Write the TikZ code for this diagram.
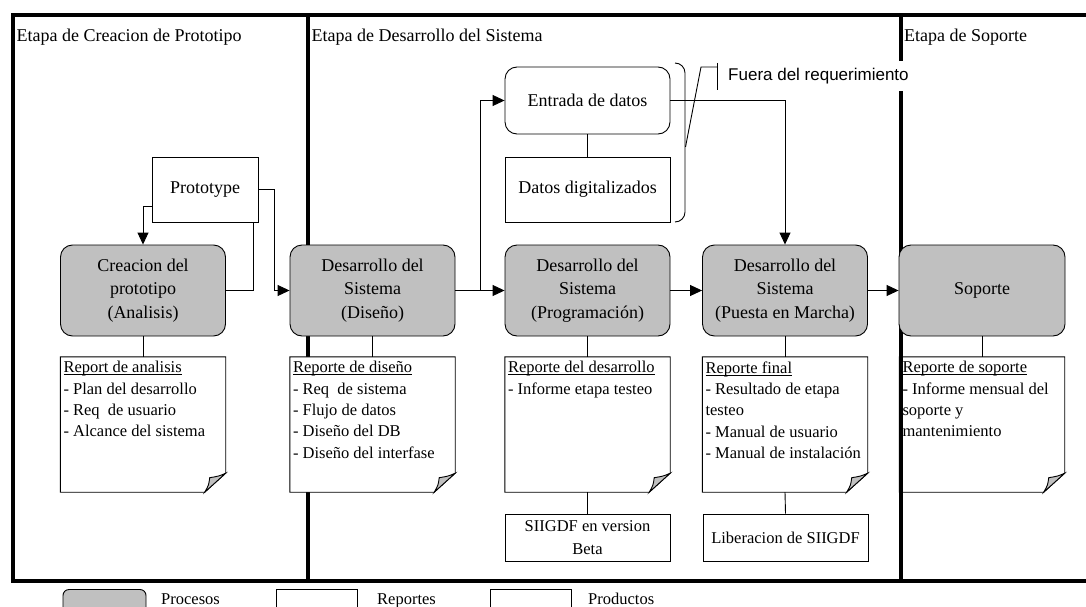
\documentclass[tikz,border=0pt]{standalone}
\usepackage{fontspec}
\setmainfont{Liberation Serif}
\newfontfamily\arialfont{Liberation Sans}
\usetikzlibrary{arrows.meta}
\definecolor{procgray}{RGB}{192,192,192}
% underline drawn just below the baseline, independent of descenders
\newcommand\ulin[1]{\setbox0\hbox{#1}\rlap{\rule[-2.2pt]{\wd0}{0.8pt}}\box0}

\begin{document}
\begin{tikzpicture}[x=1pt,y=-1pt,
  thinline/.style={line width=0.9pt},
  frameline/.style={line width=4pt},
  process/.style={draw, thinline, fill=procgray, rounded corners=12pt,
    minimum width=165pt, minimum height=91pt, align=center, inner sep=0pt,
    font=\fontsize{18}{23.3}\selectfont},
  docshape/.style={minimum width=165pt, minimum height=135pt, inner sep=0pt},
  doctext/.style={anchor=north west, inner sep=0pt, align=left,
    font=\fontsize{16.5}{21.3}\selectfont},
  product/.style={draw, thinline, fill=white, minimum width=165pt,
    minimum height=47pt, align=center, inner sep=0pt,
    font=\fontsize{16.5}{23}\selectfont},
  plainbox/.style={draw, thinline, fill=white, align=center, inner sep=0pt,
    font=\fontsize{18}{23}\selectfont},
  stage/.style={anchor=base west, inner sep=0pt, font=\fontsize{18}{22}\selectfont},
  legtext/.style={anchor=base west, inner sep=0pt, font=\fontsize{16.5}{20}\selectfont},
  flow/.style={thinline, -{Triangle[length=12pt,width=11pt]}},
  link/.style={thinline},
]
\useasboundingbox (0,0) rectangle (1086,607);
\clip (0,0) rectangle (1086,607);

% outer frame and first stage divider
\draw[frameline] (1092,15) -- (13,15) -- (13,581) -- (1092,581);
\draw[frameline] (307.5,15) -- (307.5,581);

% stage titles
\node[stage] (st1) at (16.5,42) {Etapa de Creacion de Prototipo};
\node[stage] (st2) at (311.5,42) {Etapa de Desarrollo del Sistema};
\node[stage] (st3) at (904,42) {Etapa de Soporte};

% report documents (page with curled corner)
\node[docshape] (r1) at (143,424.5) {};
\node[docshape] (r2) at (372.5,424.5) {};
\node[docshape] (r3) at (587.5,424.5) {};
\node[docshape] (r4) at (785,424.5) {};
\node[docshape] (r5) at (982,424.5) {};
\foreach \doc in {r1,r2,r3,r4,r5} {
  \draw[thinline, fill=white] (\doc.north west) -- (\doc.north east)
    -- ([yshift=19pt]\doc.south east) -- ([xshift=-21pt]\doc.south east)
    -- (\doc.south west) -- cycle;
  \filldraw[thinline, fill=procgray] ([yshift=19pt]\doc.south east)
    .. controls ([xshift=-7pt,yshift=16pt]\doc.south east) .. ([xshift=-16pt,yshift=14.5pt]\doc.south east)
    .. controls ([xshift=-17pt,yshift=7pt]\doc.south east) .. ([xshift=-21pt]\doc.south east) -- cycle;
}
\node[doctext] (r1t) at ([xshift=3pt,yshift=-4.5pt]r1.north west)
  {\ulin{Report de analisis}\\- Plan del desarrollo\\- Req~ de usuario\\- Alcance del sistema};
\node[doctext] (r2t) at ([xshift=3pt,yshift=-4.5pt]r2.north west)
  {\ulin{Reporte de diseño}\\- Req~ de sistema\\- Flujo de datos\\- Diseño del DB\\- Diseño del interfase};
\node[doctext] (r3t) at ([xshift=3pt,yshift=-4.5pt]r3.north west)
  {\ulin{Reporte del desarrollo}\\- Informe etapa testeo};
\node[doctext] (r4t) at ([xshift=3pt,yshift=-4.5pt]r4.north west)
  {\ulin{Reporte final}\\- Resultado de etapa\\testeo\\- Manual de usuario\\- Manual de instalación};
\node[doctext] (r5t) at ([xshift=3pt,yshift=-4.5pt]r5.north west)
  {\ulin{Reporte de soporte}\\- Informe mensual del\\soporte y\\mantenimiento};

% second stage divider
\draw[frameline] (900.5,15) -- (900.5,581);

% processes
\node[process] (p1) at (143,290.5) {Creacion del\\prototipo\\(Analisis)};
\node[process] (p2) at (372.5,290.5) {Desarrollo del\\Sistema\\(Diseño)};
\node[process] (p3) at (587.5,290.5) {Desarrollo del\\Sistema\\(Programación)};
\node[process] (p4) at (785,290.5) {Desarrollo del\\Sistema\\(Puesta en Marcha)};
\node[process, minimum width=166pt] (p5) at (982,290.5) {Soporte};

% prototype and data entry boxes
\node[plainbox, minimum width=106pt, minimum height=65pt] (proto) at (205,189.5) {Prototype};
\node[plainbox, rounded corners=12pt, minimum width=165pt, minimum height=67pt] (entrada) at (587.5,100.5) {Entrada de datos};
\node[plainbox, minimum width=165pt, minimum height=65pt] (datos) at (587.5,189.5) {Datos digitalizados};

% products
\node[product] (pr3) at (587.5,537.5) {SIIGDF en version\\Beta};
\node[product] (pr4) at (785.5,537.5) {Liberacion de SIIGDF};

% connectors
\draw[flow] ([yshift=-17pt]proto.west) -| (p1.north);
\draw[link] (p1.east) -| ([xshift=-5pt]proto.south east);
\draw[flow] (proto.east) -- ++(16,0) |- (p2.west);
\draw[flow] (p2.east) -- (p3.west);
\coordinate (split) at (480,290.5);
\draw[flow] (split) |- (entrada.west);
\draw[link] (entrada.south) -- (datos.north);
\draw[flow] (entrada.east) -| (p4.north);
\draw[flow] (p3.east) -- (p4.west);
\draw[flow] (p4.east) -- (p5.west);
\foreach \a/\b in {p1/r1,p2/r2,p3/r3,p4/r4,p5/r5,r3/pr3,r4/pr4}
  \draw[link] (\a.south) -- (\b.north);

% bracket and annotation
\draw[link] (675,63) to[out=0,in=90] (685,73) -- (685,212) to[out=-90,in=0] (675,222);
\coordinate (bmid) at (685.5,147);
\coordinate (kink) at (701,67);
\coordinate (tickc) at (717,67);
\draw[link] (bmid) -- (kink) -- (tickc);
\draw[link] (717,63) -- (717,90);
\node[anchor=west, fill=white, inner xsep=1pt, inner ysep=0pt, minimum height=30pt,
  font=\arialfont\fontsize{17}{20}\selectfont] (fuera) at (727,75.7) {Fuera del requerimiento};

% legend
\node[process, minimum width=83pt, minimum height=26pt, rounded corners=6pt] (legp) at (104.5,602.5) {};
\node[legtext] (legpt) at (161,604) {Procesos};
\node[draw, thinline, fill=white, minimum width=81pt, minimum height=26pt] (legr) at (316.5,602.5) {};
\node[legtext] (legrt) at (377,604) {Reportes};
\node[draw, thinline, fill=white, minimum width=81pt, minimum height=26pt] (legd) at (530.5,602.5) {};
\node[legtext] (legdt) at (588,604) {Productos};
\end{tikzpicture}
\end{document}
